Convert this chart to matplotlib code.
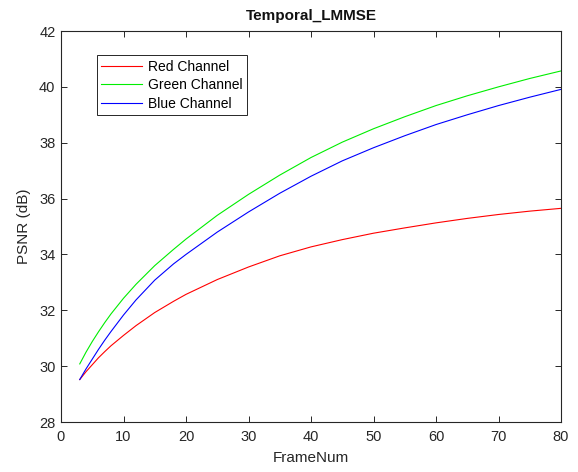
import matplotlib
matplotlib.use("Agg")
import matplotlib.pyplot as plt

plt.rcParams['font.family'] = ['Liberation Sans', 'DejaVu Sans']

frames = [3, 4, 5, 6, 7, 8, 10, 12, 15, 18, 20, 25, 30, 35, 40, 45, 50, 55,
          60, 65, 70, 75, 80]
red = [29.52, 29.80, 30.05, 30.30, 30.52, 30.73, 31.10, 31.45, 31.92, 32.32,
       32.57, 33.10, 33.55, 33.95, 34.27, 34.53, 34.76, 34.95, 35.13, 35.29,
       35.43, 35.55, 35.65]
green = [30.08, 30.50, 30.88, 31.23, 31.56, 31.87, 32.43, 32.93, 33.60, 34.18,
         34.55, 35.40, 36.15, 36.84, 37.47, 38.02, 38.50, 38.93, 39.33, 39.68,
         40.00, 40.30, 40.57]
blue = [29.52, 29.90, 30.25, 30.60, 30.93, 31.24, 31.83, 32.37, 33.08, 33.66,
        34.00, 34.80, 35.52, 36.19, 36.80, 37.35, 37.82, 38.25, 38.65, 39.00,
        39.33, 39.63, 39.91]
labels = ['Red Channel', 'Green Channel', 'Blue Channel']
xticks = [0, 10, 20, 30, 40, 50, 60, 70, 80]
yticks = [28, 30, 32, 34, 36, 38, 40, 42]

W, H = 578, 472
fig = plt.figure(figsize=(W / 100, H / 100), dpi=100)
ax = fig.add_axes([61 / W, 1 - 422 / H, 500 / W, 391 / H])

ax.plot(frames, red, color='#ff0000', lw=0.8, label=labels[0])
ax.plot(frames, green, color='#00ee00', lw=0.8, label=labels[1])
ax.plot(frames, blue, color='#0000ff', lw=0.8, label=labels[2])

ax.set_xlim(0, 80)
ax.set_ylim(28, 42)
ax.set_xticks(xticks)
ax.set_yticks(yticks)
axc = '#262626'
for s in ax.spines.values():
    s.set_color(axc)
    s.set_linewidth(0.8)
ax.tick_params(direction='in', length=4, width=0.7, colors=axc,
               top=True, right=True, labelsize=10.5)
ax.tick_params(axis='x', pad=6)
ax.tick_params(axis='y', pad=4)
ax.set_xlabel('FrameNum', fontsize=11, color=axc, labelpad=5)
ax.set_ylabel('PSNR (dB)', fontsize=11, color=axc, labelpad=6)
ax.set_title('Temporal_LMMSE', fontsize=11, fontweight='bold', color='#111111', pad=8)

leg = ax.legend(loc='upper left', bbox_to_anchor=(0.071, 0.939), borderaxespad=0,
                fancybox=False, framealpha=1, edgecolor=axc, fontsize=10,
                handlelength=2.9, handletextpad=0.45, labelspacing=0.32,
                borderpad=0.35)
leg.get_frame().set_linewidth(0.7)

fig.savefig('out.png', dpi=100)
